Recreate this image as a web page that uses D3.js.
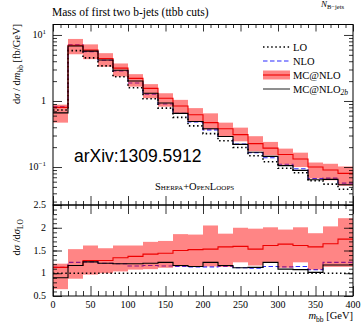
<!DOCTYPE html>
<html>
<head>
<meta charset="utf-8">
<script src="https://cdn.jsdelivr.net/npm/d3@7"></script>
<style>
  body { margin: 0; background: #fff; }
  text { font-family: "Liberation Serif", serif; fill: #000; }
</style>
</head>
<body>
<svg id="chart" width="363" height="323"></svg>
<script>
// bin edges of m_bb [GeV]
const binEdges = [0, 20, 40, 60, 80, 100, 120, 140, 160, 180, 200, 220, 240, 260, 280, 300, 320, 340, 360, 380, 400];

// upper panel: dsigma/dm_bb [fb/GeV]
const loVals   = [0.73, 5.8, 4.5, 3.4, 2.33, 1.59, 1.08, 0.78, 0.565, 0.42, 0.32, 0.25, 0.198, 0.148, 0.12, 0.096, 0.082, 0.062, 0.055, 0.046];
const nloVals  = [0.82, 7.1, 5.6, 4.15, 2.85, 1.87, 1.27, 0.9, 0.65, 0.48, 0.365, 0.29, 0.222, 0.165, 0.138, 0.11, 0.094, 0.067, 0.068, 0.057];
const mcVals   = [0.8, 7.0, 5.9, 4.4, 3.15, 2.2, 1.55, 1.1, 0.84, 0.62, 0.47, 0.38, 0.31, 0.226, 0.193, 0.155, 0.132, 0.1, 0.09, 0.08];
const mcLow    = [0.47, 5.1, 4.3, 3.3, 2.35, 1.65, 1.1, 0.82, 0.65, 0.48, 0.37, 0.285, 0.245, 0.173, 0.15, 0.108, 0.1, 0.067, 0.063, 0.052];
const mcHigh   = [0.88, 8.7, 7.2, 5.3, 3.7, 2.55, 1.8, 1.31, 1.04, 0.78, 0.65, 0.47, 0.395, 0.293, 0.24, 0.19, 0.165, 0.117, 0.112, 0.102];
const mc2bVals = [0.66, 6.8, 5.7, 4.18, 2.92, 2.01, 1.31, 0.93, 0.65, 0.49, 0.38, 0.29, 0.22, 0.167, 0.145, 0.105, 0.089, 0.064, 0.065, 0.054];

// lower panel: ratio to LO
const ratioLO    = [1, 1, 1, 1, 1, 1, 1, 1, 1, 1, 1, 1, 1, 1, 1, 1, 1, 1, 1, 1];
const ratioNLO   = [1.13, 1.24, 1.25, 1.22, 1.21, 1.16, 1.17, 1.16, 1.15, 1.14, 1.14, 1.15, 1.12, 1.11, 1.15, 1.14, 1.15, 1.08, 1.24, 1.24];
const ratioMC    = [1.13, 1.17, 1.28, 1.28, 1.34, 1.37, 1.42, 1.44, 1.5, 1.52, 1.53, 1.58, 1.59, 1.53, 1.61, 1.64, 1.61, 1.58, 1.65, 1.75];
const ratioMCLow = [0.65, 0.88, 0.97, 1.0, 1.04, 1.08, 1.09, 1.12, 1.15, 1.15, 1.15, 1.14, 1.24, 1.17, 1.25, 1.12, 1.24, 1.08, 1.14, 1.14];
const ratioMCHigh= [1.21, 1.53, 1.61, 1.55, 1.61, 1.61, 1.69, 1.71, 1.86, 1.85, 2.05, 1.87, 2.0, 1.98, 2.01, 1.96, 2.01, 1.88, 2.03, 2.21];
const ratioMC2b  = [0.9, 1.17, 1.25, 1.22, 1.21, 1.21, 1.22, 1.24, 1.17, 1.15, 1.24, 1.17, 1.12, 1.13, 1.24, 1.09, 1.08, 1.02, 1.18, 1.18];

// ticks
const xTicks = [0, 50, 100, 150, 200, 250, 300, 350, 400];
const xMinor = [10, 20, 30, 40, 60, 70, 80, 90, 110, 120, 130, 140, 160, 170, 180, 190, 210, 220, 230, 240, 260, 270, 280, 290, 310, 320, 330, 340, 360, 370, 380, 390];
const yMainTicks = [0.1, 1, 10];
const yMainExp = ['−1', '', '1'];
const yMainMinor = [0.03, 0.04, 0.05, 0.06, 0.07, 0.08, 0.09, 0.2, 0.3, 0.4, 0.5, 0.6, 0.7, 0.8, 0.9, 2, 3, 4, 5, 6, 7, 8, 9];
const yRatioTicks = [0.5, 1, 1.5, 2, 2.5];
const yRatioLabels = ['0.5', '1', '1.5', '2', '2.5'];

const svg = d3.select('#chart');
const left = 53, right = 353;
const topMain = 24.5, midY = 205, botRatio = 296;

const x = d3.scaleLinear().domain([0, 400]).range([left, right]);
const y = d3.scaleLog().domain([0.0266, 14.4]).range([midY, topMain]);
const yr = d3.scaleLinear().domain([0.5, 2.5]).range([botRatio, midY]);

const defs = svg.append('defs');
defs.append('clipPath').attr('id', 'clipMain').append('rect')
  .attr('x', left).attr('y', topMain).attr('width', right - left).attr('height', midY - topMain);
defs.append('clipPath').attr('id', 'clipRatio').append('rect')
  .attr('x', left).attr('y', midY).attr('width', right - left).attr('height', botRatio - midY);

const binData = vals => vals.map((v, i) => ({ x0: binEdges[i], x1: binEdges[i + 1], v }));
const stepPts = vals => vals.flatMap((v, i) => [[binEdges[i], v], [binEdges[i + 1], v]]);

function drawPanel(g, ys, s) {
  const line = d3.line().x(d => x(d[0])).y(d => ys(d[1]));

  // NLO dashed below the band (shows purple through it)
  g.append('path').attr('d', line(stepPts(s.nlo)))
    .attr('fill', 'none').attr('stroke', '#2b2bff').attr('stroke-width', 1.1)
    .attr('stroke-dasharray', '4.5,2.5');

  // MC@NLO band
  g.selectAll('rect.band').data(binData(s.hi).map((d, i) => ({ ...d, lo: s.lo[i] })))
    .join('rect').attr('class', 'band')
    .attr('x', d => x(d.x0)).attr('width', d => x(d.x1) - x(d.x0))
    .attr('y', d => ys(d.v)).attr('height', d => ys(d.lo) - ys(d.v))
    .attr('fill', '#ff0000').attr('fill-opacity', 0.48);

  // LO dotted
  g.append('path').attr('d', line(stepPts(s.lo0)))
    .attr('fill', 'none').attr('stroke', '#000').attr('stroke-width', 1.6)
    .attr('stroke-dasharray', '1.5,2.6');

  // MC@NLO central
  g.append('path').attr('d', line(stepPts(s.mc)))
    .attr('fill', 'none').attr('stroke', '#ee0000').attr('stroke-width', 1.1);

  // MC@NLO_2b
  g.append('path').attr('d', line(stepPts(s.mc2b)))
    .attr('fill', 'none').attr('stroke', '#000').attr('stroke-width', 1.1);
}

drawPanel(svg.append('g').attr('clip-path', 'url(#clipMain)'), y,
  { nlo: nloVals, hi: mcHigh, lo: mcLow, lo0: loVals, mc: mcVals, mc2b: mc2bVals });
drawPanel(svg.append('g').attr('clip-path', 'url(#clipRatio)'), yr,
  { nlo: ratioNLO, hi: ratioMCHigh, lo: ratioMCLow, lo0: ratioLO, mc: ratioMC, mc2b: ratioMC2b });

// tick helper: inward ticks via d3 axes, no labels, no domain
function ticks(axis, scale, vals, size, tx, ty) {
  svg.append('g').attr('transform', `translate(${tx},${ty})`)
    .call(axis(scale).tickValues(vals).tickSize(size).tickFormat(''))
    .call(g => g.select('.domain').remove())
    .selectAll('line').attr('stroke', '#000').attr('stroke-width', 0.8);
}

// upper panel ticks
ticks(d3.axisBottom, x, xTicks, 7, 0, topMain);
ticks(d3.axisBottom, x, xMinor, 3.5, 0, topMain);
ticks(d3.axisTop, x, xTicks, 9, 0, midY);
ticks(d3.axisTop, x, xMinor, 4, 0, midY);
ticks(d3.axisRight, y, yMainTicks, 9, left, 0);
ticks(d3.axisRight, y, yMainMinor, 4, left, 0);
ticks(d3.axisLeft, y, yMainTicks, 9, right, 0);
ticks(d3.axisLeft, y, yMainMinor, 4, right, 0);

// ratio panel ticks
ticks(d3.axisBottom, x, xTicks, 9, 0, midY);
ticks(d3.axisBottom, x, xMinor, 4, 0, midY);
ticks(d3.axisTop, x, xTicks, 10, 0, botRatio);
ticks(d3.axisTop, x, xMinor, 5, 0, botRatio);
ticks(d3.axisRight, yr, yRatioTicks, 9, left, 0);
ticks(d3.axisRight, yr, d3.range(0.6, 2.45, 0.1), 4, left, 0);
ticks(d3.axisLeft, yr, yRatioTicks, 9, right, 0);
ticks(d3.axisLeft, yr, d3.range(0.6, 2.45, 0.1), 4, right, 0);

// frames
svg.append('rect').attr('x', left).attr('y', topMain).attr('width', right - left).attr('height', midY - topMain)
  .attr('fill', 'none').attr('stroke', '#000').attr('stroke-width', 1);
svg.append('rect').attr('x', left).attr('y', midY).attr('width', right - left).attr('height', botRatio - midY)
  .attr('fill', 'none').attr('stroke', '#000').attr('stroke-width', 1);

// tick labels
svg.append('g').selectAll('text').data(xTicks).join('text')
  .attr('x', d => x(d)).attr('y', 308).attr('text-anchor', 'middle')
  .style('font-size', '10px').text(d => d);

const yl = svg.append('g').selectAll('text').data(yMainTicks).join('text')
  .attr('x', 46).attr('y', d => y(d) + 3).attr('text-anchor', 'end').style('font-size', '10px');
yl.each(function (d, i) {
  const t = d3.select(this);
  if (d === 1) { t.text('1'); return; }
  t.append('tspan').text('10');
  t.append('tspan').attr('dy', -4).style('font-size', '7px').text(yMainExp[i]);
});

svg.append('g').selectAll('text').data(yRatioTicks).join('text')
  .attr('x', 46).attr('y', d => yr(d) + 3).attr('text-anchor', 'end')
  .style('font-size', '10px').text((d, i) => yRatioLabels[i]);

// titles
svg.append('text').attr('x', 52).attr('y', 15.5).style('font-size', '11.5px')
  .text('Mass of first two b-jets (ttbb cuts)');

const nb = svg.append('text').attr('x', 321).attr('y', 7).style('font-size', '9px');
nb.append('tspan').style('font-style', 'italic').text('N');
nb.append('tspan').attr('dy', 2).style('font-size', '6.5px').text('B−jets');

const xt = svg.append('text').attr('x', 353).attr('y', 319).attr('text-anchor', 'end').style('font-size', '10.5px');
xt.append('tspan').style('font-style', 'italic').text('m');
xt.append('tspan').attr('dy', 2.5).style('font-size', '7.5px').text('bb');
xt.append('tspan').attr('dy', -2.5).text(' [GeV]');

const yt = svg.append('text').attr('transform', 'translate(20,24) rotate(-90)')
  .attr('text-anchor', 'end').style('font-size', '10.5px');
yt.append('tspan').text('d');
yt.append('tspan').style('font-style', 'italic').text('σ');
yt.append('tspan').text(' / d');
yt.append('tspan').style('font-style', 'italic').text('m');
yt.append('tspan').attr('dy', 2.5).style('font-size', '7.5px').text('bb');
yt.append('tspan').attr('dy', -2.5).text(' [fb/GeV]');

const rt = svg.append('text').attr('transform', 'translate(20,219) rotate(-90)')
  .attr('text-anchor', 'end').style('font-size', '10.5px');
rt.append('tspan').text('d');
rt.append('tspan').style('font-style', 'italic').text('σ');
rt.append('tspan').text(' /d');
rt.append('tspan').style('font-style', 'italic').text('σ');
rt.append('tspan').attr('dy', 2.5).style('font-size', '7.5px').text('LO');

svg.append('text').attr('x', 74).attr('y', 162)
  .style('font-family', '"Liberation Sans", Arial, sans-serif').style('font-size', '17.5px')
  .text('arXiv:1309.5912');

svg.append('text').attr('x', 155).attr('y', 190).style('font-size', '10.5px')
  .style('font-variant', 'small-caps').text('Sherpa+OpenLoops');

// legend
const legend = svg.append('g');
const lx0 = 263, lx1 = 290;
const rows = [
  { name: 'LO', y: 47 },
  { name: 'NLO', y: 61 },
  { name: 'MC@NLO', y: 75 },
  { name: 'MC@NLO', sub: '2b', y: 89 }
];
legend.append('line').attr('x1', lx0).attr('x2', lx1).attr('y1', rows[0].y).attr('y2', rows[0].y)
  .attr('stroke', '#000').attr('stroke-width', 1.6).attr('stroke-dasharray', '1.5,2.6');
legend.append('line').attr('x1', lx0).attr('x2', lx1).attr('y1', rows[1].y).attr('y2', rows[1].y)
  .attr('stroke', '#2b2bff').attr('stroke-width', 1.1).attr('stroke-dasharray', '4.5,2.5');
legend.append('rect').attr('x', lx0).attr('y', rows[2].y - 4.5).attr('width', lx1 - lx0).attr('height', 9)
  .attr('fill', '#ff0000').attr('fill-opacity', 0.48);
legend.append('line').attr('x1', lx0).attr('x2', lx1).attr('y1', rows[2].y).attr('y2', rows[2].y)
  .attr('stroke', '#ee0000').attr('stroke-width', 1.1);
legend.append('line').attr('x1', lx0).attr('x2', lx1).attr('y1', rows[3].y).attr('y2', rows[3].y)
  .attr('stroke', '#333').attr('stroke-width', 1.1);

legend.selectAll('text').data(rows).join('text')
  .attr('x', 293).attr('y', d => d.y + 3.5).style('font-size', '10.5px')
  .each(function (d) {
    const t = d3.select(this);
    t.append('tspan').text(d.name);
    if (d.sub) t.append('tspan').attr('dy', 2.5).style('font-size', '7.5px').style('font-style', 'italic').text(d.sub);
  });
</script>
</body>
</html>
